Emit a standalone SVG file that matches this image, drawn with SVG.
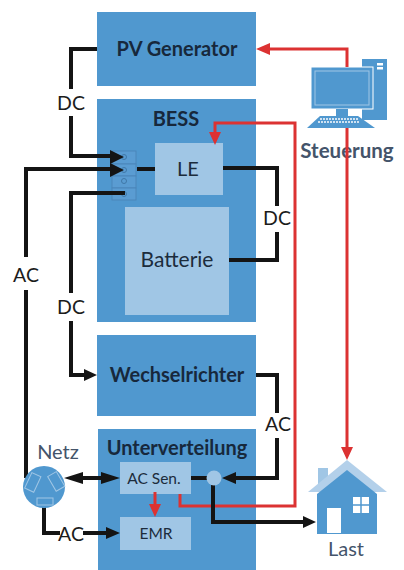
<svg xmlns="http://www.w3.org/2000/svg" width="404" height="570" viewBox="0 0 404 570">
<style>
text{font-family:Lato,"Open Sans","Liberation Sans",sans-serif;text-anchor:middle}
.blk{fill:#5098cf}.lt{fill:#a0c6e5}
.t{font-weight:700;fill:#17283c;font-size:20px}
.l{fill:#1c1c1c;font-size:19.500px}
.g{fill:#44546a;font-size:20px}
.d{fill:#1c2c3c}
.k{fill:none;stroke:#141414;stroke-width:4}
.r{fill:none;stroke:#dc3232;stroke-width:3}
.af{fill:#141414}.ar{fill:#dc3232}
.s{fill:none;stroke:#a0c6e5;stroke-width:1}
.p{fill:#5a9cd2;stroke:#4a86ba}
.c{fill:none;stroke:#4078a8}
</style>
<rect width="404" height="570" fill="#fff"/>
<g id="pv"><rect class="blk" x="97" y="12" width="159" height="74"/><text class="t" x="177" y="56">PV Generator</text></g>
<g id="bess"><rect class="blk" x="97" y="99" width="159" height="223"/><text class="t" x="176" y="126">BESS</text></g>
<g id="ports">
<rect class="p" x="112" y="151" width="24" height="13"/><rect class="p" x="112" y="164" width="24" height="12"/><rect class="p" x="112" y="176" width="24" height="12"/><rect class="p" x="112" y="188" width="24" height="12"/>
<circle class="c" cx="124" cy="157" r="2.5"/><circle class="c" cx="124" cy="170" r="2.5"/><circle class="c" cx="124" cy="181" r="2.5"/><circle class="c" cx="124" cy="194" r="2.5"/>
</g>
<g id="le"><rect class="lt" x="155" y="143" width="68" height="52"/><text class="d" x="188" y="176" font-size="20">LE</text></g>
<g id="batterie"><rect class="lt" x="125" y="207" width="104" height="108"/><text class="d" x="177" y="267" font-size="21">Batterie</text></g>
<g id="wr"><rect class="blk" x="97" y="335" width="159" height="81"/><text class="t" x="177" y="382">Wechselrichter</text></g>
<g id="uv"><rect class="blk" x="98" y="429" width="158" height="141"/><text class="t" x="177" y="455">Unterverteilung</text></g>
<g id="acsen"><rect class="lt" x="120" y="462" width="71" height="32"/><text class="d" x="154" y="484" font-size="15.500">AC Sen.</text></g>
<g id="emr"><rect class="lt" x="120" y="517" width="71" height="33"/><text class="d" x="156" y="539" font-size="15.500">EMR</text></g>
<g id="steuerung">
<rect x="362" y="59" width="25" height="61" fill="#5098cf"/><rect x="377" y="63" width="6" height="2.500" fill="#fff"/><rect x="377" y="67" width="6" height="2.500" fill="#fff"/>
<rect x="311" y="67" width="62" height="42" fill="#5098cf" stroke="#fff"/><rect x="315" y="71" width="54" height="34" fill="#5098cf" stroke="#a0c6e5"/>
<rect x="336" y="109" width="12" height="7" fill="#5098cf"/>
<path d="M320 116H358L375 128H307Z" fill="#5098cf"/><path d="M320 119H358M318 122H360" stroke="#cfe2f2" stroke-width="2" stroke-dasharray="2 1" fill="none"/>
<text x="347" y="158" font-size="20.500" font-weight="700" fill="#44546a">Steuerung</text>
</g>
<g id="connectors">
<path class="r" d="M347 67V49H268M347 128V450"/>
<path class="r" d="M180 494V506H295V123H215V135"/>
<path class="r" d="M155 492V510"/>
<path class="ar" d="M256 49l14-6v12zM215 145l-6-13h12zM347 460l-6-13h12zM155 517l-6-13h12z"/>
<path class="k" d="M97 49H71V89M71 116V156H112"/>
<path class="k" d="M26 257V169H112"/>
<path class="k" d="M26 290V478"/>
<path class="k" d="M125 193H71V293M71 321V375H86"/>
<path class="k" stroke-width="6" d="M137 169H155"/>
<path class="k" d="M223 168H277V206M277 232V260H229"/>
<path class="k" d="M256 375H277V413M277 438V478H234"/>
<path class="k" d="M191 478H207"/>
<path class="k" d="M213 485V522H305"/>
<path class="k" d="M78 478H106"/>
<path class="k" d="M44 507V533H60M83 533H108"/>
<path class="af" d="M124 157l-14-7v14zM124 170l-14-7v14zM97 375l-13-6v12zM64 478l19-6v12zM120 478l-19-6v12zM120 533l-14-6v12zM222 478l14-6v12zM316 522l-13-6v12z"/>
</g>
<g id="junction"><circle cx="214" cy="478" r="7.500" fill="#a0c6e5"/></g>
<g id="labels">
<text class="l" x="71" y="110">DC</text><text class="l" x="26" y="282">AC</text><text class="l" x="71" y="314">DC</text><text class="l" x="277" y="225">DC</text><text class="l" x="278" y="431">AC</text><text class="l" x="71" y="541">AC</text>
</g>
<g id="netz"><circle cx="44" cy="487" r="21" fill="#5098cf"/>
<rect x="-5" y="-8" width="10" height="17" transform="translate(33 482) rotate(25)" class="s"/><rect x="-5" y="-8" width="10" height="17" transform="translate(56 481) rotate(-30)" class="s"/><rect x="37" y="498" width="16" height="7" class="s"/>
<text class="g" x="58" y="459">Netz</text></g>
<g id="last">
<path d="M318 468h10v18h-10z" fill="#a0c6e5"/><path d="M347 460L387 492H367L347 475 327 492H308Z" fill="#b3d0ea"/>
<path d="M347 470L377 494V534H317V494Z" fill="#5098cf"/>
<rect x="327" y="508" width="14" height="25" fill="#fff"/>
<path d="M353 497h16v16h-16z" fill="#fff"/><path d="M361 497v16M353 505h16" stroke="#5098cf" stroke-width="1.500"/>
<text class="g" x="346" y="556">Last</text></g>
</svg>
